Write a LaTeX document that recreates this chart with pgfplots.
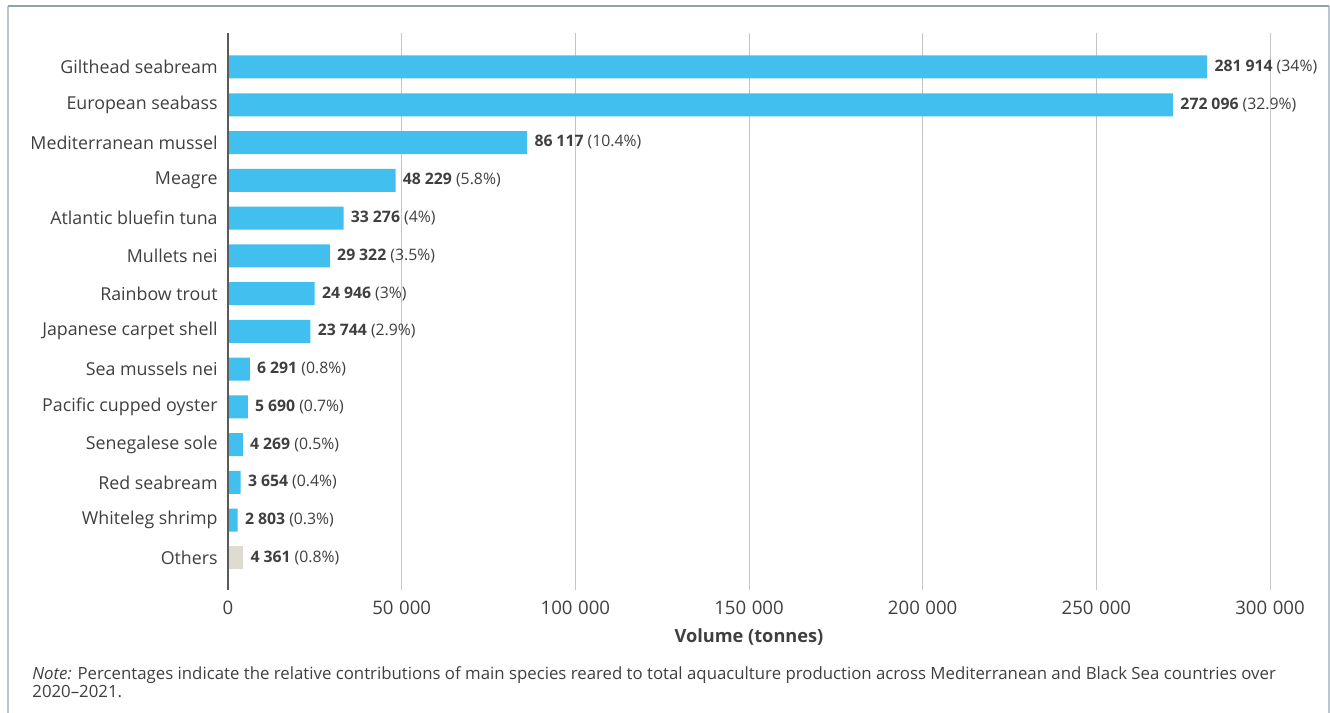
\documentclass[border=0pt]{standalone}
\usepackage{pgfplots}
\pgfplotsset{compat=1.18}
\usepackage{pgfplotstable}
\usepackage{fontspec}
\setmainfont{Open Sans}

\definecolor{barblue}{HTML}{41BFEF}
\definecolor{othersgrey}{HTML}{DEDCD0}
\definecolor{gridgrey}{HTML}{C4C4C4}
\definecolor{axisgrey}{HTML}{5A5A5A}
\definecolor{txt}{HTML}{3F3F3F}
\definecolor{frametop}{HTML}{8FA1B0}
\definecolor{frameside}{HTML}{BCC6CF}

% Aquaculture volume by species (tonnes), share of total in per cent.
% Position 13 is the top bar.
\pgfplotstableread[col sep=comma]{
pos,value,pct
13,281914,34
12,272096,32.9
11,86117,10.4
10,48229,5.8
9,33276,4
8,29322,3.5
7,24946,3
6,23744,2.9
5,6291,0.8
4,5690,0.7
3,4269,0.5
2,3654,0.4
1,2803,0.3
}\species
\pgfplotstableread[col sep=comma]{
pos,value,pct
0,4361,0.8
}\others

\begin{document}
\begin{tikzpicture}
\path[use as bounding box] (0,0) rectangle (665pt,-356.5pt);
% frame
\draw[frameside, line width=0.6pt] (4pt,-3pt) -- (4pt,-356.5pt);
\draw[frameside, line width=0.6pt] (664.5pt,-3pt) -- (664.5pt,-356.5pt);
\draw[frametop, line width=1.1pt] (4pt,-3pt) -- (664.5pt,-3pt);

\begin{axis}[
  at={(114pt,-295pt)}, anchor=south west,
  scale only axis, width=521pt, height=278.5pt,
  xbar, bar width=11.5pt, bar shift=0pt,
  xmin=0, xmax=300000, ymin=-0.85, ymax=13.9,
  clip=false,
  axis line style={draw=none},
  major tick length=0pt,
  xmajorgrids, grid style={gridgrey, line width=0.5pt},
  xtick={0,50000,100000,150000,200000,250000,300000},
  scaled x ticks=false,
  /pgf/number format/assume math mode=true,
  xticklabel style={
    /pgf/number format/.cd, fixed, precision=0, 1000 sep={\hspace{0.3em}},
    /tikz/.cd, font=\fontsize{9.3}{11}\selectfont, text=txt, yshift=-2pt},
  ytick={0,...,13},
  yticklabels={Others, Whiteleg shrimp, Red seabream, Senegalese sole,
    Pacific cupped oyster, Sea mussels nei, Japanese carpet shell,
    Rainbow trout, Mullets nei, Atlantic bluefin tuna, Meagre,
    Mediterranean mussel, European seabass, Gilthead seabream},
  yticklabel style={font=\fontsize{8.9}{11}\selectfont, text=txt,
    inner xsep=0pt, xshift=-5pt},
  xlabel={\textbf{Volume (tonnes)}},
  xlabel style={font=\fontsize{9.1}{11}\selectfont, text=txt},
  point meta=x,
  visualization depends on={\thisrow{pct} \as \pct},
  nodes near coords={\textbf{\pgfmathprintnumber[fixed,precision=0,1000 sep={\hspace{0.25em}}]{\pgfplotspointmeta}}\ (\pgfmathprintnumber[fixed,precision=1]{\pct}\%)},
  every node near coord/.append style={font=\fontsize{7.9}{9}\selectfont,
    text=txt, anchor=west, inner xsep=3.5pt},
]
\addplot[draw=none, fill=barblue] table[x=value, y=pos] {\species};
\addplot[draw=none, fill=othersgrey] table[x=value, y=pos] {\others};
\draw[axisgrey, line width=0.8pt] (axis cs:0,-0.85) -- (axis cs:0,13.9);
\end{axis}

\node[anchor=base west, align=left, text=txt,
      font=\fontsize{8.4}{8.6}\selectfont, inner sep=0pt] at (16pt,-348.5pt)
  {\textit{Note:} Percentages indicate the relative contributions of main species reared to total aquaculture production across Mediterranean and Black Sea countries over\\2020--2021.};
\end{tikzpicture}
\end{document}
